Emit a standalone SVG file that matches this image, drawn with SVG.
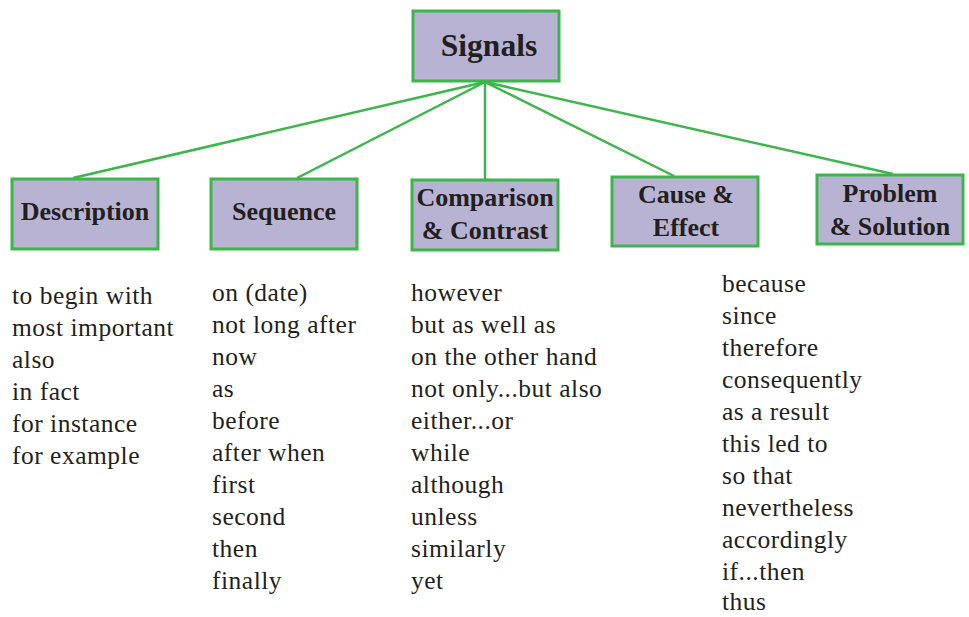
<svg xmlns="http://www.w3.org/2000/svg" width="969" height="617" viewBox="0 0 969 617">
<style>
.box{fill:#b9b3d3;stroke:#3cb54a;stroke-width:3}
.hd{font-family:'Liberation Serif','DejaVu Serif',serif;font-weight:bold;font-size:26px;fill:#231f20;text-anchor:middle}
.li{font-family:'Liberation Serif','DejaVu Serif',serif;font-size:25.5px;fill:#231f20;letter-spacing:0.5px}
.cn line{stroke:#3cb54a;stroke-width:2.5}
</style>
<rect width="969" height="617" fill="#ffffff"/>
<g class="cn" id="connectors">
<line x1="485" y1="82" x2="73" y2="178"/>
<line x1="485" y1="82" x2="297" y2="178"/>
<line x1="485" y1="82" x2="485" y2="179"/>
<line x1="485" y1="82" x2="674" y2="176"/>
<line x1="485" y1="82" x2="893" y2="174"/>
</g>
<g id="signals">
<rect class="box" x="413" y="11" width="146" height="70"/>
<text class="hd" x="489" y="56" style="font-size:31.5px">Signals</text>
</g>
<g id="description">
<rect class="box" x="12" y="179" width="146" height="70"/>
<text class="hd" x="85" y="220">Description</text>
</g>
<g id="sequence">
<rect class="box" x="211" y="179" width="146" height="70"/>
<text class="hd" x="284" y="220">Sequence</text>
</g>
<g id="comparison">
<rect class="box" x="412" y="180" width="146" height="70"/>
<text class="hd" x="485" y="206">Comparison</text>
<text class="hd" x="485" y="239">&amp; Contrast</text>
</g>
<g id="cause">
<rect class="box" x="612" y="177" width="146" height="69"/>
<text class="hd" x="686" y="203">Cause &amp;</text>
<text class="hd" x="686" y="236">Effect</text>
</g>
<g id="problem">
<rect class="box" x="817" y="175" width="146" height="69"/>
<text class="hd" x="890" y="202">Problem</text>
<text class="hd" x="890" y="235">&amp; Solution</text>
</g>
<g id="list-description" class="li">
<text x="12" y="304">to begin with</text>
<text x="12" y="336">most important</text>
<text x="12" y="368">also</text>
<text x="12" y="400">in fact</text>
<text x="12" y="432">for instance</text>
<text x="12" y="464">for example</text>
</g>
<g id="list-sequence" class="li">
<text x="212" y="301">on (date)</text>
<text x="212" y="333">not long after</text>
<text x="212" y="365">now</text>
<text x="212" y="397">as</text>
<text x="212" y="429">before</text>
<text x="212" y="461">after when</text>
<text x="212" y="493">first</text>
<text x="212" y="525">second</text>
<text x="212" y="557">then</text>
<text x="212" y="589">finally</text>
</g>
<g id="list-comparison" class="li">
<text x="411" y="301">however</text>
<text x="411" y="333">but as well as</text>
<text x="411" y="365">on the other hand</text>
<text x="411" y="397">not only...but also</text>
<text x="411" y="429">either...or</text>
<text x="411" y="461">while</text>
<text x="411" y="493">although</text>
<text x="411" y="525">unless</text>
<text x="411" y="557">similarly</text>
<text x="411" y="589">yet</text>
</g>
<g id="list-cause" class="li">
<text x="722" y="292">because</text>
<text x="722" y="324">since</text>
<text x="722" y="356">therefore</text>
<text x="722" y="388">consequently</text>
<text x="722" y="420">as a result</text>
<text x="722" y="452">this led to</text>
<text x="722" y="484">so that</text>
<text x="722" y="516">nevertheless</text>
<text x="722" y="548">accordingly</text>
<text x="722" y="580">if...then</text>
<text x="722" y="610">thus</text>
</g>
</svg>
